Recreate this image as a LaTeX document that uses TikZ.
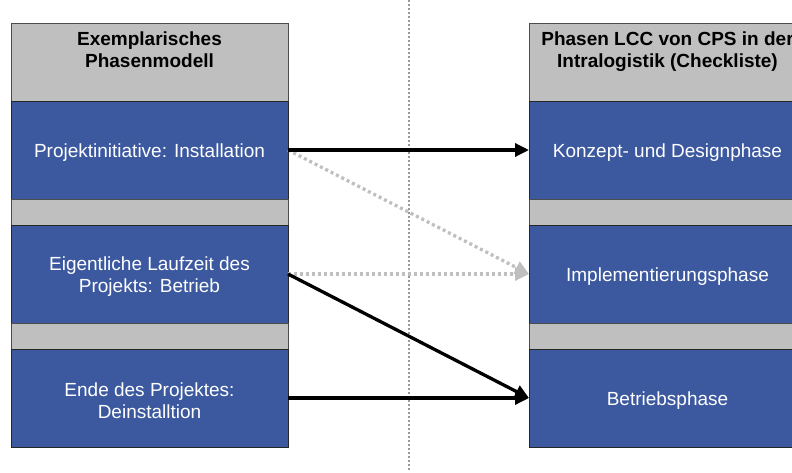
\documentclass[tikz,border=0pt]{standalone}
\usepackage{fontspec}
\setmainfont{Liberation Sans}
\usetikzlibrary{positioning,arrows.meta}
\definecolor{phaseblue}{RGB}{60,89,160}
\definecolor{phasegray}{RGB}{191,191,191}
\def\colw{277pt}
\tikzstyle{head}=[draw=black!70,fill=phasegray,minimum width=\colw,minimum height=78pt]
\tikzstyle{headtext}=[align=center,font=\fontsize{19}{22}\selectfont\bfseries,text=black]
\tikzstyle{phase}=[draw=black!85,fill=phaseblue,minimum width=\colw,minimum height=98pt]
\tikzstyle{phasetext}=[align=center,font=\fontsize{19}{22}\selectfont,text=white]
\tikzstyle{gap}=[draw=black!70,fill=phasegray,minimum width=\colw,minimum height=26pt]
\tikzstyle{link}=[line width=3.3pt,black]
\tikzstyle{weak}=[line width=3.3pt,phasegray,dash pattern=on 3pt off 3pt]
\newcommand{\newHead}[3]{\node[head,anchor=north west](#1) at (#3) {};
  \node[headtext] (#1t) at ([yshift=-2pt]#1.center) {#2\\\strut};}
\newcommand{\newPhase}[3]{\node[phase,#3](#1){};
  \node[phasetext] (#1t) at ([yshift=-3pt]#1.center) {#2};}
\newcommand{\newGap}[2]{\node[gap,#2](#1){};}
\newcommand{\newLink}[3]{\draw[->,#3] (#1.east) -- (#2.west);}

\begin{document}
\begin{tikzpicture}[x=1pt,y=1pt,node distance=0pt,outer sep=0pt,
    >={Triangle[length=14pt,width=13pt]}]
    \useasboundingbox (0,0) rectangle (792,-472);
    \clip (0,0) rectangle (792,-472);
    % divider
    \coordinate (divtop) at (409,0);
    \coordinate (divbot) at (409,-472);
    \draw[black!40,line width=1.2pt,dash pattern=on 1.5pt off 2.5pt] (divtop) -- (divbot);
    % left column
    \newHead{hL}{Exemplarisches\\Phasenmodell}{11,-23}
    \newPhase{L1}{Projektinitiative: Installation}{below=of hL}
    \newGap{gL1}{below=of L1}
    \newPhase{L2}{Eigentliche Laufzeit des\\Projekts: Betrieb}{below=of gL1}
    \newGap{gL2}{below=of L2}
    \newPhase{L3}{Ende des Projektes:\\Deinstalltion}{below=of gL2}
    % right column
    \newHead{hR}{Phasen LCC von CPS in der\\Intralogistik (Checkliste)}{529,-23}
    \newPhase{R1}{Konzept- und Designphase}{below=of hR}
    \newGap{gR1}{below=of R1}
    \newPhase{R2}{Implementierungsphase}{below=of gR1}
    \newGap{gR2}{below=of R2}
    \newPhase{R3}{Betriebsphase}{below=of gR2}
    % mapping
    \newLink{L1}{R2}{weak}
    \newLink{L2}{R2}{weak}
    \newLink{L1}{R1}{link}
    \newLink{L2}{R3}{link}
    \newLink{L3}{R3}{link}
\end{tikzpicture}
\end{document}
